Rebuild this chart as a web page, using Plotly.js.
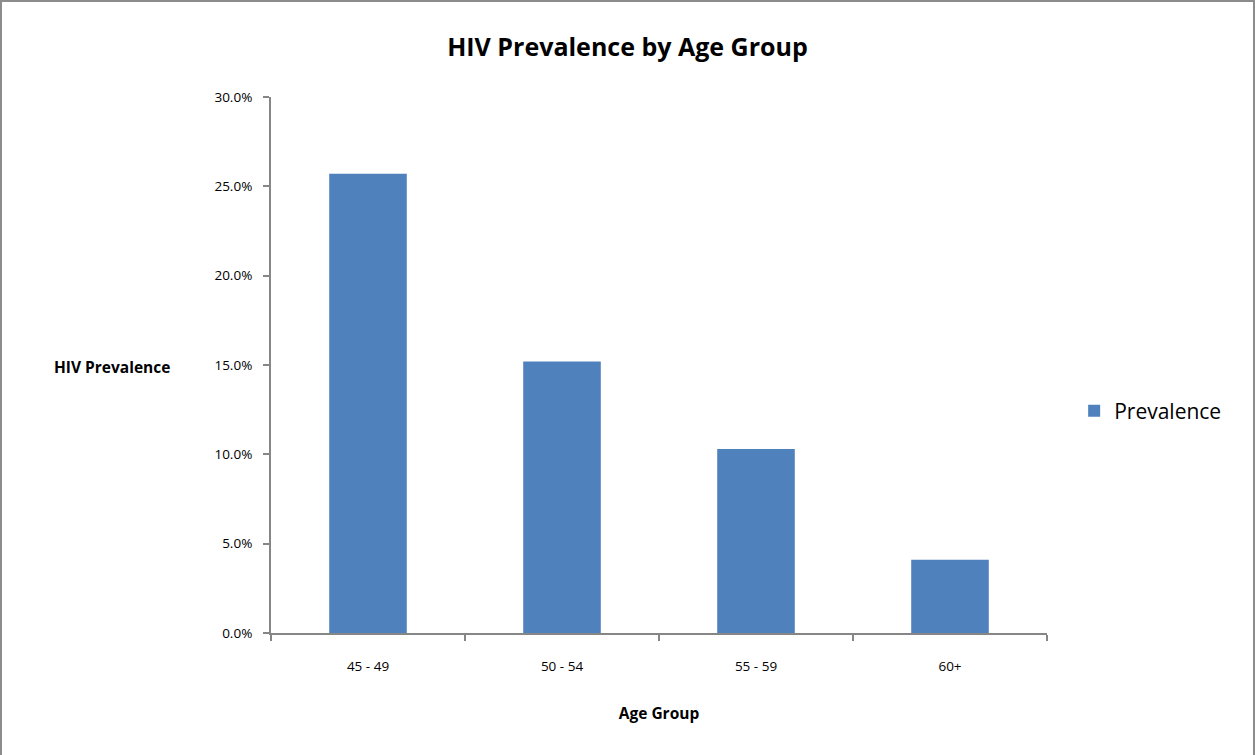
<!DOCTYPE html>
<html>
<head>
<meta charset="utf-8">
<script src="https://cdn.plot.ly/plotly-3.0.1.min.js"></script>
<style>
html,body{margin:0;padding:0;background:#fff;}
#frame{position:absolute;left:0;top:0;width:1255px;height:755px;box-sizing:border-box;border-top:2px solid #8c8c8c;border-left:2px solid #8c8c8c;border-right:2px solid #8c8c8c;}
#chart{position:absolute;left:0;top:0;width:1255px;height:755px;}
</style>
</head>
<body>
<div id="chart"></div>
<div id="frame"></div>
<script>
const ageGroups = ["45 - 49", "50 - 54", "55 - 59", "60+"];
const prevalence = [0.257, 0.152, 0.103, 0.041];
const yTicks = [0, 0.05, 0.10, 0.15, 0.20, 0.25, 0.30];

const font = "Open Sans, Noto Sans, sans-serif";

const data = [{
  type: "bar",
  name: "Prevalence",
  x: ageGroups,
  y: prevalence,
  width: 0.4,
  marker: {color: "#4F81BD", line: {color: "#4F81BD", width: 0}},
  showlegend: true
}];

const layout = {
  width: 1255, height: 755,
  margin: {l: 271, r: 208, t: 97, b: 122},
  paper_bgcolor: "#fff", plot_bgcolor: "#fff",
  font: {family: font, color: "#000", size: 13},
  title: {text: "<b>HIV Prevalence by Age Group</b>", font: {family: font, size: 25, color: "#000"}, x: 0.5, xanchor: "center", y: 0.938, yanchor: "middle"},
  xaxis: {
    showline: true, linecolor: "#868686", linewidth: 2,
    ticks: "outside", ticklen: 6, tickcolor: "#868686", tickwidth: 2,
    tickson: "boundaries",
    ticklabelstandoff: 20,
    tickfont: {family: font, size: 13.5, color: "#000"},
    showgrid: false, zeroline: false,
    title: {text: "<b>Age Group</b>", font: {family: font, size: 15.5, color: "#000"}, standoff: 34}
  },
  yaxis: {
    range: [0, 0.30],
    tickvals: yTicks,
    tickformat: ".1%",
    showline: true, linecolor: "#868686", linewidth: 2,
    ticks: "outside", ticklen: 6, tickcolor: "#868686", tickwidth: 2,
    ticklabelstandoff: 8,
    tickfont: {family: font, size: 13.5, color: "#000"},
    showgrid: false, zeroline: false
  },
  legend: {
    x: 1.035, y: 0.414, xanchor: "left", yanchor: "middle",
    font: {family: font, size: 21, color: "#000"},
    bgcolor: "rgba(0,0,0,0)"
  },
  annotations: [{
    text: "<b>HIV Prevalence</b>",
    xref: "paper", yref: "paper",
    x: -0.205, y: 0.496, xanchor: "center", yanchor: "middle",
    showarrow: false,
    font: {family: font, size: 15.5, color: "#000"}
  }],
  bargap: 0.6
};

Plotly.newPlot("chart", data, layout, {displayModeBar: false, staticPlot: true});
</script>
</body>
</html>
